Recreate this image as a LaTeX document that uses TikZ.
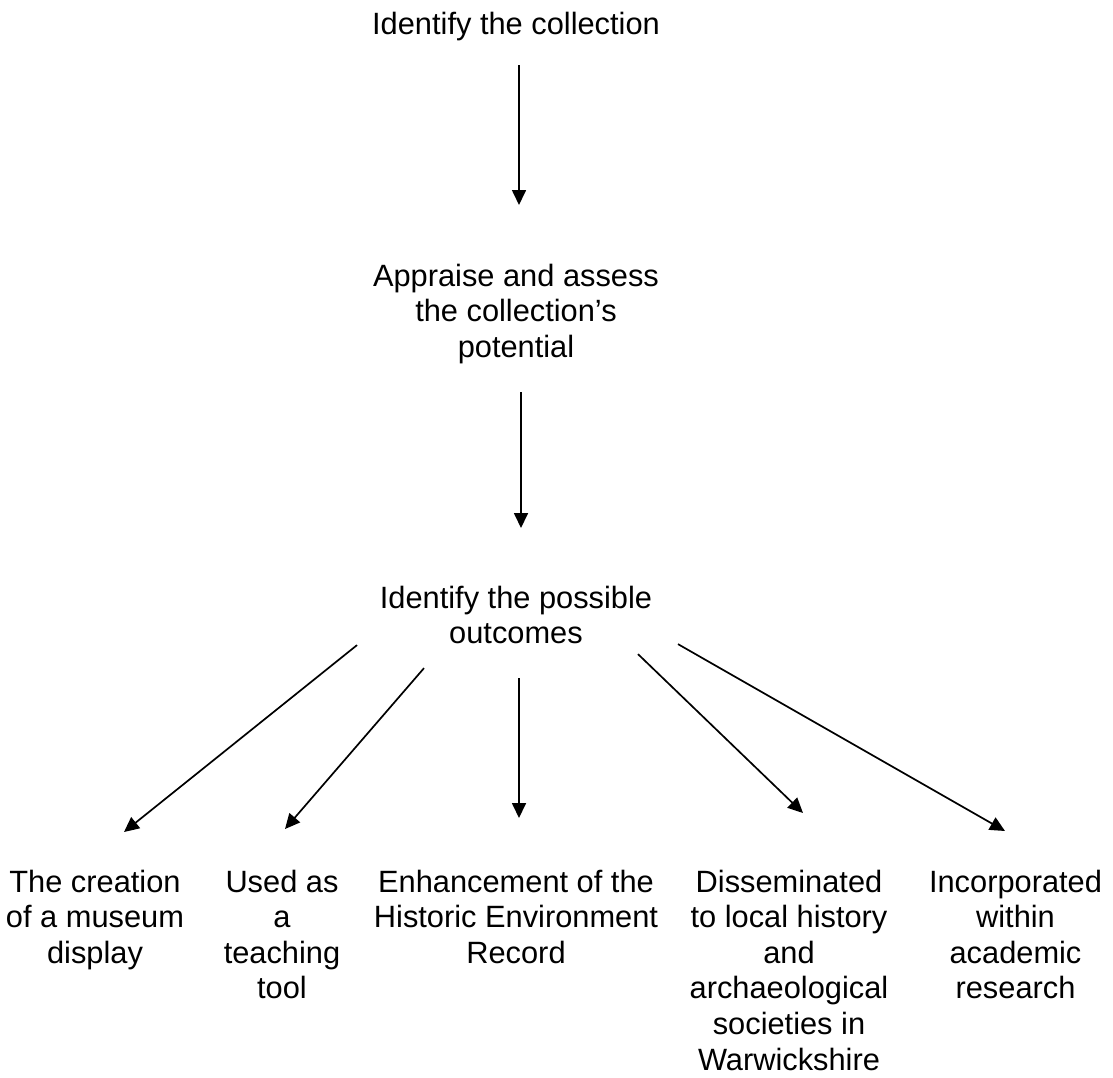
\documentclass[tikz,border=0pt]{standalone}
\usepackage{fontspec}
\setmainfont{Liberation Sans}
\usetikzlibrary{arrows.meta}

\begin{document}
\begin{tikzpicture}[x=1pt, y=-1pt,
                    every node/.style={font=\fontsize{30.8}{35.6}\selectfont, align=center, inner sep=0pt, anchor=north},
                    arr/.style={line width=1.7pt, -{Triangle[width=14pt,length=15pt]}}]
                    \useasboundingbox (0,0) rectangle (1113,1077);
                    \node (collect) at (516,11.5) {Identify the collection};
                    \node (appraise) at (516,263.5) {Appraise and assess\\the collection’s\\potential};
                    \node (outcomes) at (516,585.5) {Identify the possible\\outcomes};
                    \node (display) at (95,869.5) {The creation\\of a museum\\display};
                    \node (teaching) at (282,869.5) {Used as\\a\\teaching\\tool};
                    \node (record) at (516,869.5) {Enhancement of the\\Historic Environment\\Record};
                    \node (societies) at (789,869.5) {Disseminated\\to local history\\and\\archaeological\\societies in\\Warwickshire};
                    \node (research) at (1015.5,869.5) {Incorporated\\within\\academic\\research};
                    \draw[arr, shorten <=24.5pt, shorten >=58.5pt] ([xshift=3pt]collect.south) -- ([xshift=3pt]appraise.north);
                    \draw[arr, shorten <=28.5pt, shorten >=57.5pt] ([xshift=5pt]appraise.south) -- ([xshift=5pt]outcomes.north);
                    \draw[arr] ([shift={(-159,1)}]outcomes.south) -- ([shift={(29,-37.5)}]display.north);
                    \draw[arr] ([shift={(-92,24)}]outcomes.south) -- ([shift={(3,-40.5)}]teaching.north);
                    \draw[arr] ([shift={(3,34)}]outcomes.south) -- ([shift={(3,-51.5)}]record.north);
                    \draw[arr] ([shift={(122,10)}]outcomes.south) -- ([shift={(14,-56.5)}]societies.north);
                    \draw[arr] ([shift={(162,0)}]outcomes.south) -- ([shift={(-10.5,-38.5)}]research.north);
                \end{tikzpicture}
\end{document}
